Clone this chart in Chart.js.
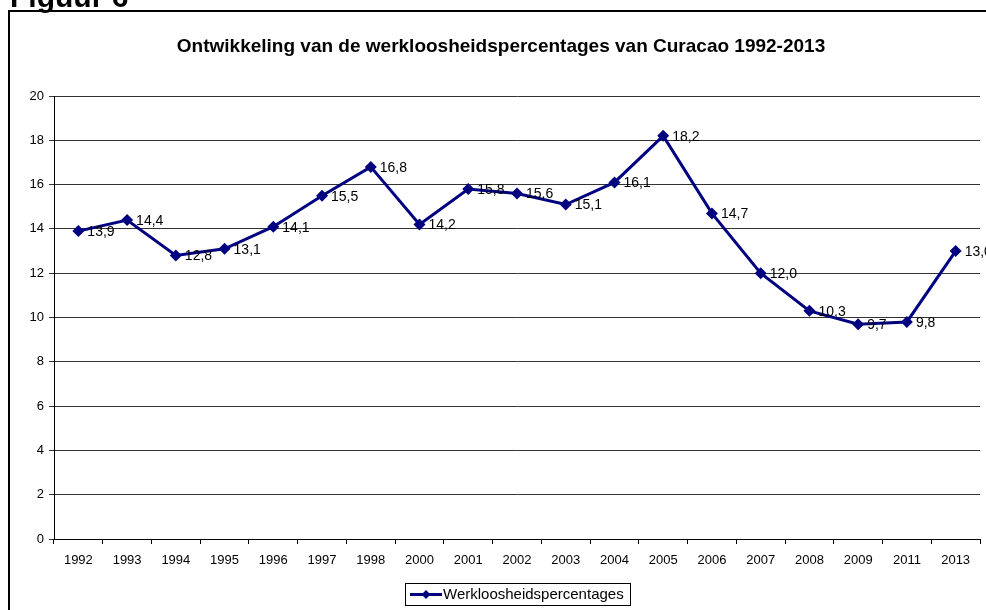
<!DOCTYPE html>
<html>
<head>
<meta charset="utf-8">
<script src="https://cdn.jsdelivr.net/npm/chart.js@4.4.0/dist/chart.umd.min.js"></script>
<style>
  html, body { margin: 0; padding: 0; background: #fff; overflow: hidden; }
  #wrap { position: relative; width: 986px; height: 610px; }
  #frame { position: absolute; left: 8px; top: 10px; width: 990px; height: 620px; border: 2px solid #000; box-sizing: border-box; }
  canvas { position: absolute; left: 0; top: 0; }
</style>
</head>
<body>
<div id="wrap">
  <div id="frame"></div>
  <canvas id="chart" width="986" height="610"></canvas>
</div>
<script>
const years = ["1992", "1993", "1994", "1995", "1996", "1997", "1998", "2000", "2001", "2002",
  "2003", "2004", "2005", "2006", "2007", "2008", "2009", "2011", "2013"];
const rates = [13.9, 14.4, 12.8, 13.1, 14.1, 15.5, 16.8, 14.2, 15.8, 15.6,
  15.1, 16.1, 18.2, 14.7, 12.0, 10.3, 9.7, 9.8, 13.0];
const yTicks = [0, 2, 4, 6, 8, 10, 12, 14, 16, 18, 20];

const figureLabel = "Figuur 6";
const chartTitle = "Ontwikkeling van de werkloosheidspercentages van Curacao 1992-2013";
const seriesName = "Werkloosheidspercentages";
const navy = "#000080";
const font = '"Liberation Sans", Arial, sans-serif';

// Figure caption, title, value labels and the boxed legend, drawn on the canvas
const extras = {
  id: "extras",
  afterDatasetsDraw(chart) {
    const c = chart.ctx;
    c.save();

    // caption above the frame, cut off by the top of the page
    c.fillStyle = "#000";
    c.font = "bold 30px " + font;
    c.textAlign = "left";
    c.textBaseline = "alphabetic";
    c.fillText(figureLabel, 10, 7);

    c.font = "bold 19px " + font;
    c.textAlign = "center";
    c.textBaseline = "middle";
    c.fillText(chartTitle, 501, 47);

    // value labels to the right of each point
    c.font = "14px " + font;
    c.textAlign = "left";
    chart.getDatasetMeta(0).data.forEach((pt, i) => {
      c.fillText(rates[i].toFixed(1).replace(".", ","), pt.x + 9, pt.y + 1);
    });

    // legend
    const lx = 405, ly = 583, lw = 225, lh = 22;
    c.fillStyle = "#fff";
    c.fillRect(lx, ly, lw, lh);
    c.strokeStyle = "#000";
    c.lineWidth = 1;
    c.strokeRect(lx + 0.5, ly + 0.5, lw, lh);
    const my = ly + lh / 2 + 0.5;
    c.strokeStyle = navy;
    c.lineWidth = 3;
    c.beginPath();
    c.moveTo(lx + 5, my);
    c.lineTo(lx + 37, my);
    c.stroke();
    c.fillStyle = navy;
    c.beginPath();
    c.moveTo(lx + 21, my - 4.5);
    c.lineTo(lx + 25.5, my);
    c.lineTo(lx + 21, my + 4.5);
    c.lineTo(lx + 16.5, my);
    c.closePath();
    c.fill();
    c.fillStyle = "#000";
    c.font = "15px " + font;
    c.textAlign = "left";
    c.fillText(seriesName, lx + 38, my);

    c.restore();
  }
};

new Chart(document.getElementById("chart"), {
  type: "line",
  data: {
    labels: years,
    datasets: [{
      label: seriesName,
      data: rates,
      borderColor: navy,
      backgroundColor: navy,
      borderWidth: 3,
      pointStyle: "rectRot",
      pointRadius: 6,
      pointBorderWidth: 0,
      tension: 0,
    }],
  },
  options: {
    responsive: false,
    animation: false,
    layout: { padding: { left: 0, right: 5, top: 96, bottom: 0 } },
    plugins: {
      legend: { display: false },
      title: { display: false },
      tooltip: { enabled: false },
    },
    scales: {
      x: {
        offset: true,
        afterFit(scale) { scale.height = 71; },
        grid: { offset: true, drawOnChartArea: false, drawTicks: true, tickLength: 5, color: "#000" },
        border: { display: true, color: "#000", width: 1 },
        ticks: { color: "#000", font: { family: font, size: 13 }, padding: 9, maxRotation: 0, autoSkip: false },
      },
      y: {
        min: 0,
        max: 20,
        afterFit(scale) { scale.width = 54; },
        afterBuildTicks(scale) { scale.ticks = yTicks.map(v => ({ value: v })); },
        grid: { color: "#333", tickLength: 5 },
        border: { display: true, color: "#000", width: 1 },
        ticks: { color: "#000", font: { family: font, size: 13 }, padding: 5 },
      },
    },
  },
  plugins: [extras],
});
</script>
</body>
</html>
